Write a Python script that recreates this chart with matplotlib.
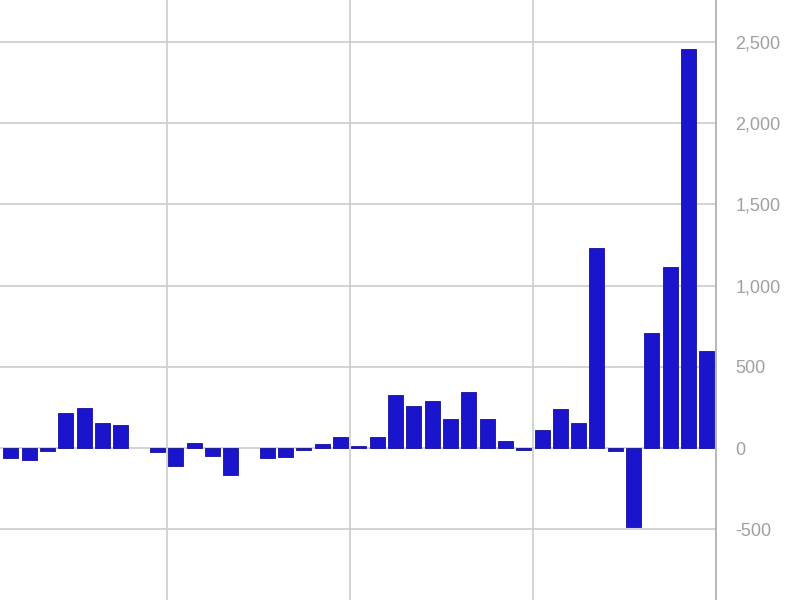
import matplotlib
matplotlib.use("Agg")
import matplotlib.pyplot as plt
from matplotlib.ticker import FuncFormatter

values = [-63, -74, -17, 217, 244, 152, 143, 0, -22,
          -109, 29, -49, -166, 0, -63, -55, -12, 23, 70,
          14, 66, 324, 260, 291, 177, 347, 177, 41, -14,
          109, 240, 154, 1229, -18, -488, 706, 1113, 2455, 596]
y_ticks = [-500, 0, 500, 1000, 1500, 2000, 2500]
x_grid = [8.5, 18.5, 28.5]

plt.rcParams['font.family'] = ['Liberation Sans', 'DejaVu Sans']
fig = plt.figure(figsize=(8, 6), dpi=100)
ax = fig.add_axes([0.0, 0.0, 716 / 800, 1.0])

x = list(range(len(values)))
ax.bar(x, values, width=0.82, color='#1a14cc', edgecolor='#12109a',
       linewidth=[0.6 if v != 0 else 0 for v in values], zorder=3)

ax.set_xlim(-0.6, 38.5)
ax.set_ylim(-936, 2759)
ax.set_yticks(y_ticks)
ax.yaxis.set_major_formatter(FuncFormatter(lambda v, p: f"{int(v):,}"))
ax.yaxis.tick_right()
ax.tick_params(axis='y', length=0, pad=14, labelsize=13, labelcolor='#a0a0a0')
ax.set_xticks([])
ax.grid(axis='y', color='#cccccc', linewidth=1.2, zorder=1)
for gx in x_grid:
    ax.axvline(gx, color='#cccccc', linewidth=1.2, zorder=1)
for s in ['top', 'left', 'bottom']:
    ax.spines[s].set_visible(False)
ax.spines['right'].set_color('#aaaaaa')
ax.spines['right'].set_linewidth(1.2)

fig.savefig('out.png', dpi=100)
